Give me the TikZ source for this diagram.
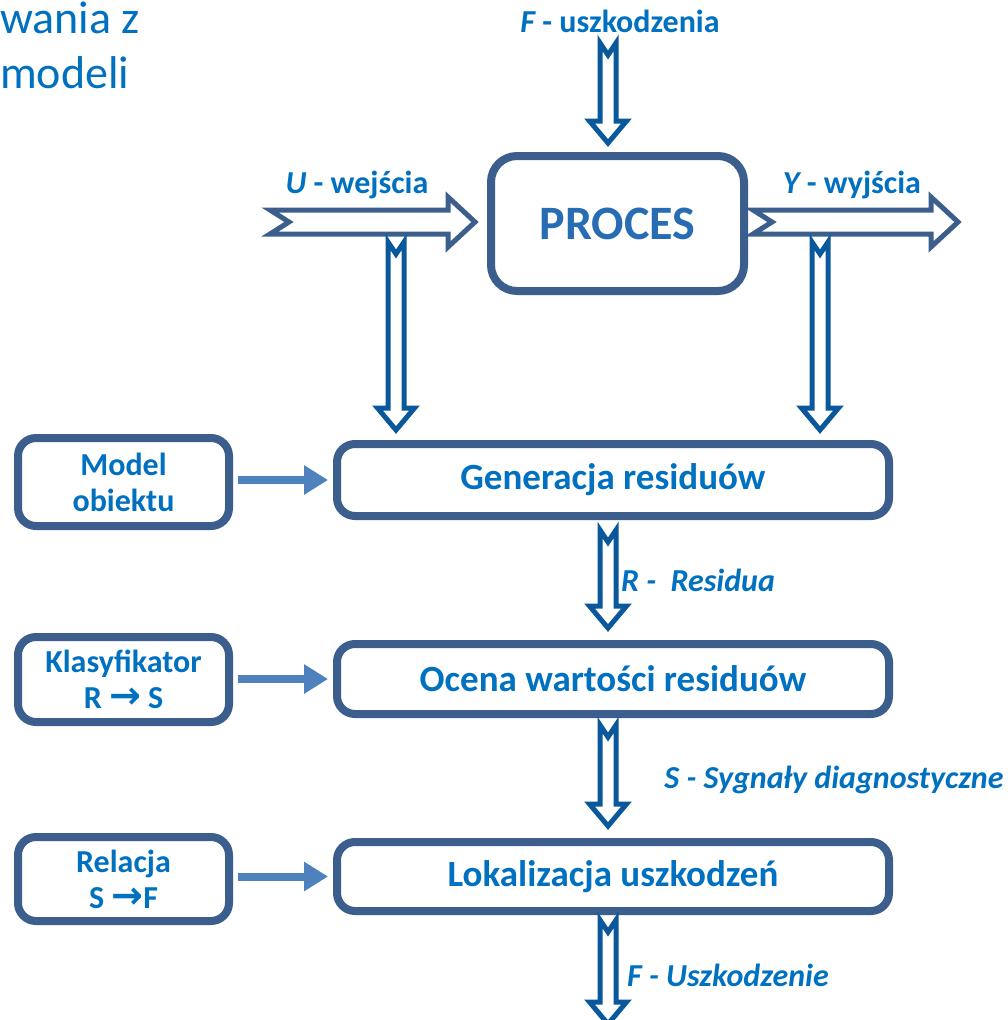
\documentclass[tikz,border=0pt]{standalone}
\usepackage{fontspec}
\setmainfont{Carlito}
\newfontfamily\arrfont{DejaVu Sans}
\usetikzlibrary{arrows.meta,calc}
\definecolor{boxc}{RGB}{59,94,140}
\definecolor{txtc}{RGB}{0,112,192}
\definecolor{vblue}{RGB}{10,88,156}
\definecolor{sarr}{RGB}{79,129,189}
\definecolor{proct}{RGB}{40,108,180}
\newcommand\myarr{{\arrfont\fontsize{38}{30}\selectfont\bfseries→}}
\tikzset{
  mainbox/.style={draw=boxc, line width=8pt, rounded corners=18pt, fill=white,
    text=txtc, font=\fontsize{37}{42}\selectfont\bfseries, align=center, inner sep=0pt},
  sidebox/.style={draw=boxc, line width=8pt, rounded corners=18pt, fill=white,
    text=txtc, font=\fontsize{32}{38}\selectfont\bfseries, align=center, inner sep=0pt,
    minimum width=211pt},
  lbl/.style={text=txtc, font=\fontsize{32}{36}\selectfont\bfseries, inner sep=0pt},
  ilbl/.style={lbl, font=\fontsize{32}{36}\selectfont\bfseries\itshape},
  hollowv/.style={draw=vblue, line width=5pt, fill=white, line join=miter},
  hollowh/.style={draw=boxc, line width=5pt, fill=white, line join=miter},
  smallarr/.style={draw=sarr, line width=8pt, -{Triangle[length=24pt,width=28pt]},
    shorten <=5pt, shorten >=5pt}
}
% vertical hollow block arrow from #1 (tail, top) to #2 (tip, bottom)
\newcommand\vblk[2]{\draw[hollowv] let \p1=(#1), \p2=(#2) in
  (\x1-8pt,\y1) -- (\x1,\y1-12pt) -- (\x1+8pt,\y1) -- (\x1+8pt,\y2+22pt)
  -- (\x1+18.5pt,\y2+22pt) -- (\x1,\y2) -- (\x1-18.5pt,\y2+22pt)
  -- (\x1-8pt,\y2+22pt) -- cycle;}
% horizontal hollow block arrow from #1 (tail, left) to #2 (tip, right)
\newcommand\hblk[2]{\draw[hollowh] let \p1=(#1), \p2=(#2) in
  (\x1,\y1+12pt) -- (\x2-27pt,\y1+12pt) -- (\x2-27pt,\y1+25pt) -- (\x2,\y1)
  -- (\x2-27pt,\y1-25pt) -- (\x2-27pt,\y1-12pt) -- (\x1,\y1-12pt)
  -- (\x1+19pt,\y1) -- cycle;}
\begin{document}
\begin{tikzpicture}[x=1pt,y=-1pt]
\clip (0,0) rectangle (1008,1020);
\fill[white] (0,0) rectangle (1008,1020);

% title fragment
\node[anchor=base west, text=txtc, font=\fontsize{46}{52}\selectfont, inner sep=0pt] (t1) at (0,33) {wania z};
\node[anchor=base west, text=txtc, font=\fontsize{46}{52}\selectfont, inner sep=0pt] (t2) at (0,88) {modeli};

% boxes
\node[mainbox, rounded corners=26pt, minimum width=253pt, minimum height=135pt,
  text=proct, font=\fontsize{48}{52}\selectfont\bfseries] (proc) at (617.5,223.5) {PROCES};
\node[mainbox, minimum width=552pt, minimum height=72pt] (gen) at (613,480) {Generacja residuów};
\node[mainbox, minimum width=552pt, minimum height=70pt] (oce) at (613,679) {Ocena wartości residuów};
\node[mainbox, minimum width=552pt, minimum height=69pt] (lok) at (613,876.5) {Lokalizacja uszkodzeń};

\node[sidebox, minimum height=88pt] (mod) at (123.5,482) {Model\\[-2pt]obiektu};
\node[sidebox, minimum height=85pt] (kla) at (123.5,679.5) {Klasyfikator\\[-2pt]R \myarr\ S};
\node[sidebox, minimum height=84pt] (rel) at (123.5,879) {Relacja\\[-2pt]S \myarr F};

% small arrows
\draw[smallarr] (mod.east |- gen.west) -- (gen.west);
\draw[smallarr] (kla.east |- oce.west) -- (oce.west);
\draw[smallarr] (rel.east |- lok.west) -- (lok.west);

% named ends of block arrows
\coordinate (ftop) at (608,43);
\coordinate (ftip) at ($(proc.north)+(-9.5,-9)$);
\coordinate (utail) at (270,222);
\coordinate (utip) at ($(proc.west)+(-12,-1.5)$);
\coordinate (ytail) at ($(proc.east)+(5,-1.5)$);
\coordinate (ytip) at (958,222);
\coordinate (ldtop) at (396,242);
\coordinate (ldtip) at ($(gen.north)+(-217,-10)$);
\coordinate (rdtop) at (820,242);
\coordinate (rdtip) at ($(gen.north)+(207,-10)$);
\coordinate (rtop) at ($(gen.south)+(-5,10)$);
\coordinate (rtip) at ($(oce.north)+(-5,-12)$);
\coordinate (stop) at ($(oce.south)+(-5,7)$);
\coordinate (stip) at ($(lok.north)+(-5,-12)$);
\coordinate (fbtop) at ($(lok.south)+(-5,5)$);
\coordinate (fbtip) at (608,1024);

\vblk{ftop}{ftip}
\hblk{utail}{utip}
\hblk{ytail}{ytip}
\vblk{ldtop}{ldtip}
\vblk{rdtop}{rdtip}
\vblk{rtop}{rtip}
\vblk{stop}{stip}
\vblk{fbtop}{fbtip}

% labels
\node[lbl] (lf) at (620,21) {\itshape F\upshape\ - uszkodzenia};
\node[lbl] (lu) at (357,185) {\itshape U\upshape\ - wejścia};
\node[lbl] (ly) at (852,185) {\itshape Y\upshape\ - wyjścia};
\node[ilbl] (lr) at (698,580) {R -\ \ Residua};
\node[ilbl] (ls) at (834,780) {S - Sygnały diagnostyczne};
\node[ilbl] (lfb) at (728,975) {F - Uszkodzenie};
\end{tikzpicture}
\end{document}
